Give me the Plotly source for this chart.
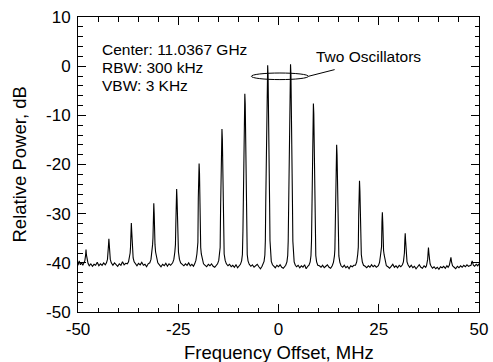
import plotly.graph_objects as go

# ---- data ----
freq_mhz = [
    -50.0, -49.7, -49.4, -49.1, -48.8,
    -48.5, -48.3, -48.1, -48.0, -47.9, -47.7, -47.5,
    -47.2, -46.8, -46.4, -46.0, -45.6, -45.2, -44.8, -44.4, -44.0, -43.6, -43.2,
    -42.9, -42.65, -42.5, -42.4, -42.3, -42.2, -42.1, -41.95, -41.7,
    -41.3, -40.9, -40.5, -40.1, -39.7, -39.3, -38.9, -38.5, -38.1,
    -37.7, -37.4, -37.15, -37.0, -36.9, -36.8, -36.7, -36.6, -36.5, -36.4, -36.25, -36.0, -35.7,
    -35.3, -34.9, -34.5, -34.1, -33.7, -33.3, -32.9, -32.5,
    -32.1, -31.8, -31.55, -31.4, -31.3, -31.2, -31.1, -31.0, -30.9, -30.8, -30.65, -30.4, -30.1,
    -29.7, -29.3, -28.9, -28.5, -28.1, -27.7, -27.3, -26.9,
    -26.4, -26.1, -25.85, -25.7, -25.6, -25.5, -25.4, -25.3, -25.2, -25.1, -24.95, -24.7, -24.4,
    -24.0, -23.6, -23.2, -22.8, -22.4, -22.0, -21.6, -21.2,
    -20.9, -20.6, -20.35, -20.2, -20.1, -20.0, -19.9, -19.8, -19.7, -19.6, -19.5, -19.4, -19.25, -19.0, -18.7,
    -18.3, -17.9, -17.5, -17.1, -16.7, -16.3, -15.9, -15.5,
    -15.2, -14.9, -14.65, -14.55, -14.44, -14.3, -14.2, -14.1, -14.0, -13.9, -13.76, -13.65, -13.55, -13.3, -13.0,
    -12.6, -12.2, -11.8, -11.4, -11.0, -10.6, -10.2, -9.8,
    -9.5, -9.2, -9.0, -8.87, -8.74, -8.6, -8.5, -8.4, -8.3, -8.2, -8.06, -7.93, -7.8, -7.6, -7.3,
    -6.9, -6.5, -6.1, -5.7, -5.3, -4.9, -4.5, -4.1,
    -3.9, -3.6, -3.4, -3.28, -3.18, -3.04, -2.9, -2.8, -2.7, -2.6, -2.5, -2.36, -2.22, -2.12, -2.0, -1.8, -1.5,
    -1.2, -0.8, -0.4, 0.0, 0.4, 0.8, 1.2, 1.6,
    1.8, 2.1, 2.3, 2.42, 2.52, 2.66, 2.8, 2.9, 3.0, 3.1, 3.2, 3.34, 3.48, 3.58, 3.7, 3.9, 4.2,
    4.5, 4.9, 5.3, 5.7, 6.1, 6.5, 6.9, 7.3,
    7.6, 7.9, 8.1, 8.23, 8.36, 8.5, 8.6, 8.7, 8.8, 8.9, 9.04, 9.17, 9.3, 9.5, 9.8,
    10.2, 10.6, 11.0, 11.4, 11.8, 12.2, 12.6, 13.0,
    13.4, 13.7, 13.95, 14.06, 14.17, 14.3, 14.4, 14.5, 14.6, 14.7, 14.83, 14.94, 15.05, 15.3, 15.6,
    16.0, 16.4, 16.8, 17.2, 17.6, 18.0, 18.4, 18.8,
    19.2, 19.5, 19.75, 19.9, 20.0, 20.1, 20.2, 20.3, 20.4, 20.5, 20.65, 20.9, 21.2,
    21.6, 22.0, 22.4, 22.8, 23.2, 23.6, 24.0, 24.4,
    24.9, 25.2, 25.45, 25.6, 25.7, 25.8, 25.9, 26.0, 26.1, 26.2, 26.35, 26.6, 26.9,
    27.3, 27.7, 28.1, 28.5, 28.9, 29.3, 29.7, 30.1, 30.5,
    30.9, 31.15, 31.3, 31.4, 31.5, 31.6, 31.7, 31.8, 31.9, 32.05, 32.3,
    32.7, 33.1, 33.5, 33.9, 34.3, 34.7, 35.1, 35.5, 35.9, 36.3, 36.7,
    36.9, 37.0, 37.2, 37.3, 37.4, 37.5, 37.6, 37.8, 38.0,
    38.4, 38.8, 39.2, 39.6, 40.0, 40.4, 40.8, 41.2, 41.6, 42.0, 42.3,
    42.6, 42.85, 43.0, 43.15, 43.4,
    43.8, 44.2, 44.6, 45.0, 45.4, 45.8, 46.2, 46.6, 47.0, 47.4, 47.7,
    48.0, 48.3, 48.6,
    48.9, 49.3, 49.7, 50.0,
]

power_db = [
    -40.5, -39.6, -40.4, -40.0, -40.5,
    -40.1, -39.6, -38.4, -37.3, -38.4, -39.6, -40.1,
    -40.6, -40.2, -40.7, -40.3, -40.5, -39.9, -40.6, -40.2, -40.5, -40.0, -40.4,
    -40.0, -39.3, -38.2, -36.5, -35.1, -36.5, -38.2, -39.3, -40.0,
    -40.5, -40.0, -40.4, -40.7, -40.2, -40.5, -39.8, -40.4, -40.1,
    -40.2, -39.8, -39.0, -38.0, -36.8, -33.6, -31.9, -33.6, -36.8, -38.0, -39.0, -39.8, -40.2,
    -40.6, -40.1, -40.4, -39.9, -40.5, -40.3, -40.8, -40.2,
    -40.0, -39.3, -37.8, -36.3, -34.9, -29.9, -27.9, -29.9, -34.9, -36.3, -37.8, -39.3, -40.0,
    -40.4, -40.8, -40.3, -40.6, -40.1, -40.7, -40.2, -40.5,
    -40.0, -39.3, -37.8, -36.3, -32.0, -27.0, -25.0, -27.0, -32.0, -36.3, -37.8, -39.3, -40.0,
    -40.3, -40.6, -40.2, -40.5, -40.0, -40.6, -40.3, -40.7,
    -40.2, -39.5, -38.2, -36.9, -35.8, -26.8, -21.8, -19.8, -21.8, -26.8, -35.8, -36.9, -38.2, -39.5, -40.2,
    -40.5, -40.8, -40.3, -40.6, -40.2, -40.7, -40.9, -40.4,
    -40.2, -39.5, -38.2, -36.9, -28.8, -19.8, -14.8, -12.8, -14.8, -19.8, -28.8, -36.9, -38.2, -39.5, -40.2,
    -40.6, -40.3, -40.8, -40.5, -40.9, -40.4, -41.0, -40.6,
    -40.3, -39.6, -38.3, -33.6, -21.6, -12.6, -7.6, -5.6, -7.6, -12.6, -21.6, -33.6, -38.3, -39.6, -40.3,
    -40.7, -40.4, -40.9, -40.6, -40.3, -40.8, -41.2, -40.7,
    -40.4, -39.7, -38.4, -35.5, -27.8, -15.8, -6.8, -1.8, 0.2, -1.8, -6.8, -15.8, -27.8, -35.5, -38.4, -39.7, -40.4,
    -40.6, -41.0, -40.5, -40.8, -40.4, -40.9, -41.1, -40.7,
    -40.5, -39.8, -38.5, -35.6, -27.6, -15.6, -6.6, -1.6, 0.4, -1.6, -6.6, -15.6, -27.6, -35.6, -38.5, -39.8, -40.5,
    -40.8, -40.5, -41.0, -40.6, -40.9, -40.4, -41.2, -40.7,
    -40.5, -39.8, -38.5, -35.6, -23.6, -14.6, -9.6, -7.6, -9.6, -14.6, -23.6, -35.6, -38.5, -39.8, -40.5,
    -40.6, -40.9, -40.5, -41.0, -40.7, -40.4, -40.9, -41.1,
    -40.6, -39.9, -38.6, -37.3, -32.0, -23.0, -18.0, -16.0, -18.0, -23.0, -32.0, -37.3, -38.6, -39.9, -40.6,
    -40.9, -40.5, -41.0, -40.7, -41.2, -40.6, -40.8, -40.5,
    -40.5, -39.8, -38.3, -36.8, -30.3, -25.3, -23.3, -25.3, -30.3, -36.8, -38.3, -39.8, -40.5,
    -40.7, -41.0, -40.6, -40.9, -40.4, -40.8, -40.5, -40.9,
    -40.6, -39.9, -38.4, -37.5, -36.7, -31.7, -29.7, -31.7, -36.7, -37.5, -38.4, -39.9, -40.6,
    -40.8, -41.1, -40.7, -40.3, -40.9, -40.6, -41.0, -40.5, -40.8,
    -40.4, -39.8, -39.0, -38.0, -35.5, -34.0, -35.5, -38.0, -39.0, -39.8, -40.4,
    -40.9, -40.5, -41.0, -40.7, -41.2, -40.8, -40.4, -40.9, -41.1, -40.6, -40.9,
    -40.6, -40.2, -39.3, -38.0, -36.9, -38.0, -39.3, -40.2, -40.6,
    -41.1, -40.8, -41.2, -40.9, -41.3, -40.8, -41.0, -40.7, -41.1, -40.6, -40.9,
    -40.5, -39.8, -38.9, -39.8, -40.6,
    -40.9, -41.2, -40.7, -41.0, -40.6, -40.9, -40.5, -40.8, -40.4, -40.7, -40.6,
    -40.5, -39.6, -40.5,
    -40.7, -40.3, -40.6, -40.2,
]

x_tick_vals = [-50, -25, 0, 25, 50]
x_tick_text = ["-50", "-25", "0", "25", "50"]
y_tick_vals = [-50, -40, -30, -20, -10, 0, 10]
y_tick_text = ["-50", "-40", "-30", "-20", "-10", "0", "10"]

x_title = "Frequency Offset, MHz"
y_title = "Relative Power, dB"
info_lines = ["Center: 11.0367 GHz", "RBW: 300 kHz", "VBW: 3 KHz"]
info_y_db = [3.35, -0.37, -3.9]
callout_text = "Two Oscillators"

FONT = "Liberation Sans, Arial, Helvetica, sans-serif"

fig = go.Figure()
fig.add_trace(go.Scatter(
    x=freq_mhz, y=power_db, mode="lines",
    line=dict(color="black", width=1.1), hoverinfo="skip",
))

# ellipse around the two oscillator peaks and its leader line
fig.add_shape(type="circle", xref="x", yref="y",
              x0=-6.76, x1=7.46, y0=-2.73, y1=-1.39,
              line=dict(color="black", width=1))
fig.add_shape(type="line", xref="x", yref="y",
              x0=7.46, y0=-2.06, x1=14.0, y1=-0.7,
              line=dict(color="black", width=1))

for txt, yv in zip(info_lines, info_y_db):
    fig.add_annotation(x=-44.6, y=yv, xref="x", yref="y", text=txt,
                       showarrow=False, xanchor="left", yanchor="middle",
                       font=dict(size=15.5, family=FONT, color="black"))

fig.add_annotation(x=22.5, y=2.0, xref="x", yref="y", text=callout_text,
                   showarrow=False, xanchor="center", yanchor="middle",
                   font=dict(size=15.5, family=FONT, color="black"))

# axis titles
fig.add_annotation(x=0.5, y=0, xref="paper", yref="paper", yshift=-40,
                   text=x_title, showarrow=False, xanchor="center", yanchor="middle",
                   font=dict(size=18.5, family=FONT, color="black"))
fig.add_annotation(x=0, y=0.5, xref="paper", yref="paper", xshift=-59,
                   text=y_title, showarrow=False, xanchor="center", yanchor="middle",
                   textangle=-90, font=dict(size=18.5, family=FONT, color="black"))

axis_common = dict(
    showline=True, linecolor="black", linewidth=1, mirror="ticks",
    ticks="inside", ticklen=8, tickwidth=1, tickcolor="black",
    showgrid=False, zeroline=False, ticklabeloverflow="allow",
    tickfont=dict(size=17, family=FONT, color="black"),
)

fig.update_xaxes(
    range=[-50, 50], tickmode="array", tickvals=x_tick_vals, ticktext=x_tick_text,
    minor=dict(dtick=5, tick0=0, ticks="inside", ticklen=4.5, tickwidth=1, tickcolor="black"),
    ticklabelstandoff=2,
    **axis_common,
)
fig.update_yaxes(
    range=[-50, 10], tickmode="array", tickvals=y_tick_vals, ticktext=y_tick_text,
    minor=dict(dtick=2, tick0=0, ticks="inside", ticklen=4.5, tickwidth=1, tickcolor="black"),
    ticklabelstandoff=3,
    **axis_common,
)

fig.update_layout(
    width=493, height=362,
    margin=dict(l=78, r=5, t=17, b=50),
    plot_bgcolor="white", paper_bgcolor="white",
    showlegend=False,
    font=dict(family=FONT, color="black"),
)

fig.write_html("out.html", config={"displayModeBar": False},
               post_script="document.body.style.margin='0';")
